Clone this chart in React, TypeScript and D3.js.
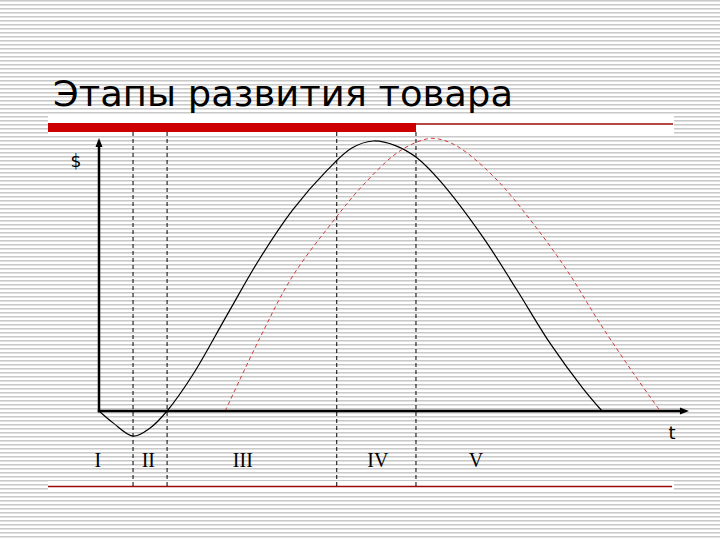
import React from "react";
import * as d3 from "d3";

const title = "Этапы развития товара";
const stageLabels = ["I", "II", "III", "IV", "V"];
const stageLabelT = [-0.2, 8.4, 24.5, 47.5, 64.2];
const stageBounds = [5.8, 11.6, 40.5, 54.0];

// product A (solid black): time t, value $
const blackT = [0, 2.4, 5.8, 8.7, 11.6, 16.0, 21.8, 27.4, 33.0, 38.8, 43.0, 46.7, 50.5, 54.2, 58.1, 65.4, 71.2, 76.8, 82.4, 85.7];
const blackV = [0, -4.4, -9.3, -6.3, 0, 13.5, 35.5, 56.5, 74.5, 89.0, 97.3, 100, 98.3, 93.7, 85.2, 64.4, 44.8, 25.2, 8.5, 0];

// product B (dashed red)
const redT = [21.5, 27.4, 33.0, 40.5, 44.5, 50.1, 53.5, 56.7, 59.7, 62.7, 68.3, 73.9, 79.7, 85.3, 91.0, 95.6];
const redV = [0, 27.0, 50.0, 72.0, 82.5, 94.5, 99.0, 101.0, 99.5, 95.6, 84.4, 69.6, 52.2, 32.6, 14.1, 0];

const W = 720;
const H = 540;

export default function App() {
  const x = d3.scaleLinear().domain([0, 100]).range([99, 686]);
  const y = d3.scaleLinear().domain([0, 100]).range([411, 141]);

  const line = d3
    .line<[number, number]>()
    .x((d) => x(d[0]))
    .y((d) => y(d[1]))
    .curve(d3.curveCatmullRom.alpha(0.5));

  const blackPts = blackT.map((t, i) => [t, blackV[i]] as [number, number]);
  const redPts = redT.map((t, i) => [t, redV[i]] as [number, number]);

  const x0 = x(0);
  const y0 = y(0);
  const yTop = y(101.1);
  const xEnd = x(100.5);

  return (
    <svg
      width={W}
      height={H}
      style={{ position: "absolute", left: 0, top: 0, display: "block" }}
    >
      <defs>
        <pattern id="stripes" width="8" height="4" patternUnits="userSpaceOnUse">
          <rect width="8" height="4" fill="#ffffff" />
          <rect y="0" width="8" height="1" fill="#c9c9c9" />
          <rect y="1" width="8" height="1" fill="#e2e2e2" />
        </pattern>
      </defs>
      <rect width={W} height={H} fill="url(#stripes)" />
      {/* white bands behind the decorative rules */}
      <rect x={48} y={114} width={626} height={22} fill="#ffffff" />
      <rect x={48} y={481} width={626} height={10} fill="#ffffff" />

      {/* title */}
      <text
        x={53}
        y={106}
        fontFamily="DejaVu Sans, Verdana, sans-serif"
        fontSize={35}
        textLength={460}
        lengthAdjust="spacingAndGlyphs"
        fill="#000"
      >
        {title}
      </text>

      {/* red rules */}
      <rect x={48} y={123} width={368} height={9} fill="#cc0000" />
      <line x1={416} x2={673} y1={124} y2={124} stroke="#9c0a0a" strokeWidth={1.3} />
      <line x1={48} x2={672} y1={486.5} y2={486.5} stroke="#9c0a0a" strokeWidth={1.3} />

      {/* stage boundaries */}
      {stageBounds.map((t, i) => (
        <line
          key={i}
          x1={x(t)}
          x2={x(t)}
          y1={132}
          y2={486}
          stroke="#000"
          strokeWidth={1}
          strokeDasharray="4,3"
        />
      ))}

      {/* curves */}
      <path d={line(redPts) || ""} fill="none" stroke="#d23a3a" strokeWidth={1} strokeDasharray="4,3" />
      <path d={line(blackPts) || ""} fill="none" stroke="#000" strokeWidth={1.2} />

      {/* axes */}
      <line x1={x0} x2={x0} y1={y0 + 1.2} y2={yTop + 6} stroke="#000" strokeWidth={2.5} />
      <path d={`M${x0},${yTop} L${x0 - 3.5},${yTop + 9} L${x0 + 3.5},${yTop + 9} Z`} fill="#000" />
      <line x1={x0 - 1.2} x2={xEnd - 6} y1={y0} y2={y0} stroke="#000" strokeWidth={2.5} />
      <path d={`M${xEnd},${y0} L${xEnd - 9},${y0 - 3.5} L${xEnd - 9},${y0 + 3.5} Z`} fill="#000" />

      {/* axis labels */}
      <text x={76} y={167} textAnchor="middle" fontFamily="DejaVu Sans, sans-serif" fontSize={17} fill="#000">
        $
      </text>
      <text x={672} y={439} textAnchor="middle" fontFamily="DejaVu Sans, sans-serif" fontSize={18} fill="#000">
        t
      </text>

      {/* stage labels */}
      {stageLabels.map((s, i) => (
        <text
          key={s}
          x={x(stageLabelT[i])}
          y={467}
          textAnchor="middle"
          fontFamily="Liberation Serif, Times New Roman, serif"
          fontSize={20}
          fill="#000"
        >
          {s}
        </text>
      ))}
    </svg>
  );
}
